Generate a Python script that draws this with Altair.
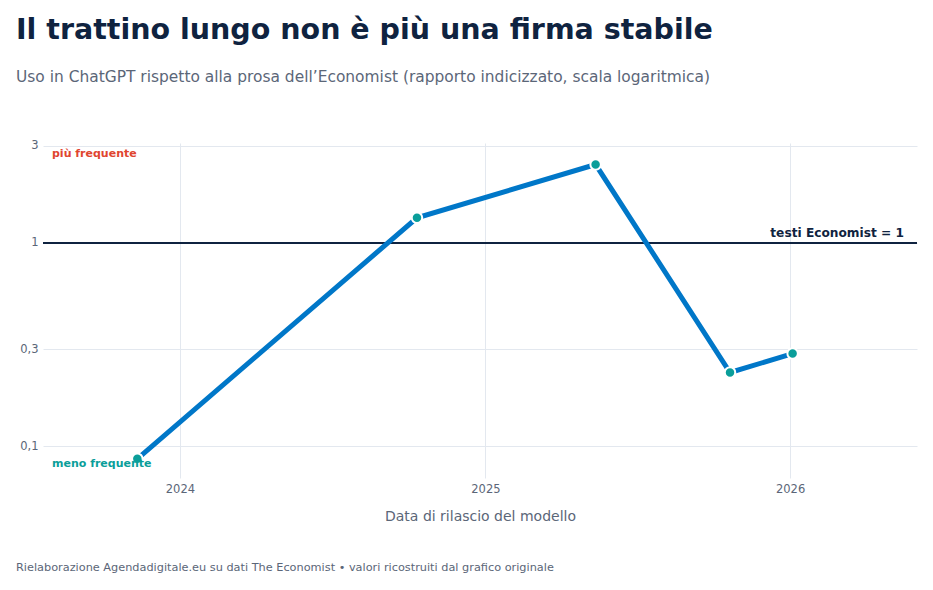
import altair as alt
import pandas as pd

# ---- data ----
release_dates = ["2023-11-11", "2024-10-11", "2025-05-13", "2025-10-21", "2026-01-04"]
ratio_values = [0.087, 1.33, 2.43, 0.231, 0.286]
y_ticks = [0.1, 0.3, 1, 3]
ref_value = [1]

title_text = "Il trattino lungo non è più una firma stabile"
subtitle_text = "Uso in ChatGPT rispetto alla prosa dell\u2019Economist (rapporto indicizzato, scala logaritmica)"
footer_text = "Rielaborazione Agendadigitale.eu su dati The Economist \u2022 valori ricostruiti dal grafico originale"
ref_label = "testi Economist = 1"
top_label = "più frequente"
bottom_label = "meno frequente"

FONT = "DejaVu Sans"
NAVY = "#0f2340"
GREY = "#5b6678"
GRID = "#e3e8ef"
BLUE = "#0077c8"
TEAL = "#0a9e9a"
RED = "#e0452f"

W, H = 874, 335

df = pd.DataFrame({"date": release_dates, "ratio": ratio_values})
ref_df = pd.DataFrame({"v": ref_value, "label": [ref_label]})
lab_df = pd.DataFrame({"v": [3, 0.1], "label": [top_label, bottom_label]})

x_scale = alt.Scale(domain=[alt.DateTime(year=2023, month=7, date=21),
                            alt.DateTime(year=2026, month=6, date=2)])
y_scale = alt.Scale(type="log", domain=[0.07, 3.1], nice=False)

x_enc = alt.X("date:T", scale=x_scale,
              axis=alt.Axis(format="%Y", tickCount="year", grid=True, gridColor=GRID,
                            domain=False, ticks=False, labelFontSize=11.5, labelColor=GREY,
                            labelFont=FONT, labelPadding=5,
                            title="Data di rilascio del modello", titleFont=FONT,
                            titleFontSize=14, titleFontWeight="normal", titleColor=GREY,
                            titlePadding=15))
y_enc = alt.Y("ratio:Q", scale=y_scale,
              axis=alt.Axis(values=y_ticks, grid=True, gridColor=GRID, domain=False,
                            ticks=False, labelFontSize=11.5, labelColor=GREY, labelFont=FONT,
                            labelPadding=5,
                            labelExpr="replace(format(datum.value, '~g'), '.', ',')",
                            title=None))

base = alt.Chart(df)
line = base.mark_line(color=BLUE, strokeWidth=5).encode(x=x_enc, y=y_enc)
pts = base.mark_circle(size=110, color=TEAL, opacity=1, stroke="white",
                       strokeWidth=2).encode(x="date:T", y="ratio:Q")

rule = alt.Chart(ref_df).mark_rule(color=NAVY, strokeWidth=2).encode(
    y=alt.Y("v:Q", scale=y_scale))
ref_txt = alt.Chart(ref_df).mark_text(font=FONT, fontSize=12.2, fontWeight="bold", color=NAVY,
                                      align="right", baseline="alphabetic", dy=-6).encode(
    x=alt.value(W - 13), y=alt.Y("v:Q", scale=y_scale), text="label:N")

top_txt = alt.Chart(lab_df.iloc[[0]]).mark_text(font=FONT, fontSize=11, fontWeight="bold",
                                                color=RED, align="left",
                                                baseline="alphabetic", dy=11).encode(
    x=alt.value(9), y=alt.Y("v:Q", scale=y_scale), text="label:N")
bot_txt = alt.Chart(lab_df.iloc[[1]]).mark_text(font=FONT, fontSize=11, fontWeight="bold",
                                                color=TEAL, align="left",
                                                baseline="alphabetic", dy=21).encode(
    x=alt.value(9), y=alt.Y("v:Q", scale=y_scale), text="label:N")

title_mark = alt.Chart(pd.DataFrame({"t": [title_text]})).mark_text(
    font=FONT, fontSize=28.5, fontWeight="bold", color=NAVY, align="left",
    baseline="alphabetic").encode(x=alt.value(-27), y=alt.value(-104), text="t:N")
sub_mark = alt.Chart(pd.DataFrame({"t": [subtitle_text]})).mark_text(
    font=FONT, fontSize=15.45, color=GREY, align="left",
    baseline="alphabetic").encode(x=alt.value(-27), y=alt.value(-61), text="t:N")
foot_mark = alt.Chart(pd.DataFrame({"t": [footer_text]})).mark_text(
    font=FONT, fontSize=11.3, color=GREY, align="left",
    baseline="alphabetic").encode(x=alt.value(-27), y=alt.value(428), text="t:N")

chart = alt.layer(rule, line, pts, ref_txt, top_txt, bot_txt,
                  title_mark, sub_mark, foot_mark).properties(
    width=W, height=H,
    autosize=alt.AutoSizeParams(type="none"),
    padding={"left": 35, "top": 135, "right": 8, "bottom": 99},
    background="white",
).configure_view(stroke=None)

chart.save("out.html", embed_options={"renderer": "svg", "actions": False})
